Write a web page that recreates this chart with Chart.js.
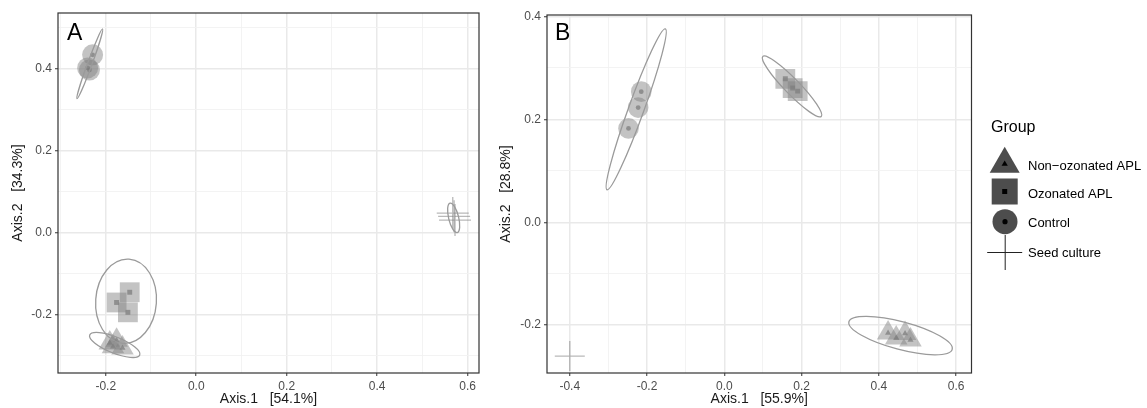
<!DOCTYPE html>
<html lang="en">
<head>
  <meta charset="UTF-8">
  <title>PCoA ordination</title>
  <script src="https://cdn.jsdelivr.net/npm/chart.js"></script>
  <style>
    body { margin: 0; background: #fff; }
    #wrap { position: relative; width: 1147px; height: 408px; }
    #panelA { position: absolute; left: 0; top: 0; width: 482px; height: 408px; }
    #panelB { position: absolute; left: 482px; top: 0; width: 665px; height: 408px; }
  </style>
</head>
<body>
  <div id="wrap">
    <div id="panelA"><canvas id="chartA"></canvas></div>
    <div id="panelB"><canvas id="chartB"></canvas></div>
  </div>

  <script>
    // Groups (legend order)
    const groups = ['Non\u2212ozonated APL', 'Ozonated APL', 'Control', 'Seed culture'];

    // Panel A sample coordinates
    const aNonOzX = [-0.191, -0.176, -0.163, -0.184];
    const aNonOzY = [-0.270, -0.263, -0.282, -0.279];
    const aOzX = [-0.147, -0.176, -0.151];
    const aOzY = [-0.146, -0.171, -0.195];
    const aCtrlX = [-0.229, -0.240, -0.236];
    const aCtrlY = [0.433, 0.401, 0.396];
    const aSeedX = [0.567, 0.570, 0.572];
    const aSeedY = [0.047, 0.039, 0.030];

    // Panel B sample coordinates
    const bNonOzX = [0.424, 0.445, 0.468, 0.482];
    const bNonOzY = [-0.215, -0.225, -0.216, -0.229];
    const bOzX = [0.158, 0.177, 0.190];
    const bOzY = [0.279, 0.261, 0.255];
    const bCtrlX = [-0.215, -0.223, -0.248];
    const bCtrlY = [0.254, 0.223, 0.1825];
    const bSeedX = [-0.400];
    const bSeedY = [-0.260];

    // Confidence ellipses: major axis end points and minor/major ratio
    const aEllipses = [
      [[-0.2354, -0.2503], [-0.1248, -0.2991], 0.30],
      [[-0.1485, -0.0654], [-0.1617, -0.2706], 0.72],
      [[-0.2635, 0.326], [-0.207, 0.496], 0.06],
      [[0.561, 0.0713], [0.577, -0.0005], 0.33]
    ];
    const bEllipses = [
      [[0.3226, -0.1934], [0.590, -0.247], 0.26],
      [[0.0997, 0.3226], [0.251, 0.2058], 0.18],
      [[-0.3036, 0.0632], [-0.1526, 0.376], 0.09]
    ];

    // Axis ranges, tick labels and minor grid lines
    const aXRange = [-0.3055, 0.625];
    const aYRange = [-0.343, 0.535];
    const aXTicks = [-0.2, 0.0, 0.2, 0.4, 0.6];
    const aXMinor = [-0.3, -0.1, 0.1, 0.3, 0.5];
    const aYTicks = [-0.2, 0.0, 0.2, 0.4];
    const aYMinor = [-0.3, -0.1, 0.1, 0.3, 0.5];

    const bXRange = [-0.459, 0.640];
    const bYRange = [-0.293, 0.403];
    const bXTicks = [-0.4, -0.2, 0.0, 0.2, 0.4, 0.6];
    const bXMinor = [-0.3, -0.1, 0.1, 0.3, 0.5];
    const bYTicks = [-0.2, 0.0, 0.2, 0.4];
    const bYMinor = [-0.1, 0.1, 0.3];

    Chart.defaults.font.family = '"Liberation Sans", Arial, sans-serif';
    Chart.defaults.animation = false;

    const FILL = 'rgba(128,128,128,0.47)';
    const DOT = 'rgba(105,105,105,0.65)';
    const LINE = '#9a9a9a';

    function pts(xs, ys) {
      return xs.map((x, i) => ({ x: x, y: ys[i] }));
    }

    function isIn(list, v) {
      return list.some(m => Math.abs(m - v) < 1e-9);
    }

    // big translucent marker + small darker centre marker per group
    function groupSets(xs, ys, style, radius, dotRadius) {
      const data = pts(xs, ys);
      if (style === 'cross') {
        return [{
          data: data, pointStyle: 'cross', pointRadius: radius,
          borderColor: 'rgba(128,128,128,0.55)', pointBorderWidth: 1.3, backgroundColor: 'transparent'
        }];
      }
      return [
        { data: data, pointStyle: style, pointRadius: radius, backgroundColor: FILL, pointBorderWidth: 0, borderColor: 'transparent' },
        { data: data, pointStyle: style, pointRadius: dotRadius, backgroundColor: DOT, pointBorderWidth: 0, borderColor: 'transparent' }
      ];
    }

    function axis(range, ticks, minor, isX, size, titleText, titlePad) {
      const all = ticks.concat(minor).sort((p, q) => p - q);
      return {
        type: 'linear',
        position: isX ? 'bottom' : 'left',
        min: range[0],
        max: range[1],
        afterBuildTicks: s => { s.ticks = all.map(v => ({ value: v })); },
        afterFit: s => {
          if (isX) s.height = size; else s.width = size;
          s.paddingLeft = 0; s.paddingRight = 0; s.paddingTop = 0; s.paddingBottom = 0;
        },
        border: { display: false },
        grid: {
          color: c => isIn(ticks, c.tick.value) ? '#e9e9e9' : '#f2f2f2',
          lineWidth: c => isIn(ticks, c.tick.value) ? 1.5 : 0.9,
          tickColor: c => isIn(ticks, c.tick.value) ? '#333333' : 'rgba(0,0,0,0)',
          tickLength: 3,
          tickWidth: 1
        },
        ticks: {
          autoSkip: false,
          maxRotation: 0,
          padding: 3,
          color: '#4d4d4d',
          font: { size: 12 },
          callback: v => isIn(ticks, v) ? v.toFixed(1) : ''
        },
        title: {
          display: true,
          text: titleText,
          color: '#1a1a1a',
          font: { size: 14 },
          padding: titlePad
        }
      };
    }

    // ellipses, panel box and panel letter
    const decor = {
      id: 'decor',
      afterDatasetsDraw(chart, args, opts) {
        const ctx = chart.ctx, sx = chart.scales.x, sy = chart.scales.y, area = chart.chartArea;
        ctx.save();
        ctx.beginPath();
        ctx.rect(area.left, area.top, area.right - area.left, area.bottom - area.top);
        ctx.clip();
        ctx.strokeStyle = LINE;
        ctx.lineWidth = 1.3;
        opts.ellipses.forEach(e => {
          const x1 = sx.getPixelForValue(e[0][0]), y1 = sy.getPixelForValue(e[0][1]);
          const x2 = sx.getPixelForValue(e[1][0]), y2 = sy.getPixelForValue(e[1][1]);
          const a = Math.hypot(x2 - x1, y2 - y1) / 2;
          ctx.beginPath();
          ctx.ellipse((x1 + x2) / 2, (y1 + y2) / 2, a, a * e[2], Math.atan2(y2 - y1, x2 - x1), 0, Math.PI * 2);
          ctx.stroke();
        });
        ctx.restore();
      },
      afterDraw(chart, args, opts) {
        const ctx = chart.ctx, area = chart.chartArea;
        ctx.save();
        ctx.strokeStyle = '#333333';
        ctx.lineWidth = 1.2;
        ctx.strokeRect(area.left, area.top, area.right - area.left, area.bottom - area.top);
        ctx.fillStyle = '#000';
        ctx.font = '23px "Liberation Sans", Arial, sans-serif';
        ctx.textBaseline = 'alphabetic';
        ctx.fillText(opts.letter, area.left + opts.letterDx, area.top + opts.letterDy);
        ctx.restore();
      }
    };

    // legend to the right of panel B
    const groupLegend = {
      id: 'groupLegend',
      afterDraw(chart) {
        const ctx = chart.ctx;
        const sx = 522.7, tx = 546;
        ctx.save();
        ctx.fillStyle = '#000';
        ctx.font = '16px "Liberation Sans", Arial, sans-serif';
        ctx.fillText('Group', 509, 131.5);
        ctx.font = '13px "Liberation Sans", Arial, sans-serif';
        const base = [170, 198.3, 226.7, 257];
        groups.forEach((g, i) => ctx.fillText(g, tx, base[i]));

        const dark = '#4d4d4d';
        // triangle
        ctx.fillStyle = dark;
        tri(ctx, sx, 164, 17.3); ctx.fill();
        ctx.fillStyle = '#000';
        tri(ctx, sx, 164, 3.6); ctx.fill();
        // square
        ctx.fillStyle = dark;
        ctx.fillRect(sx - 13, 191.5 - 13, 26, 26);
        ctx.fillStyle = '#000';
        ctx.fillRect(sx - 2.5, 191.5 - 2.5, 5, 5);
        // circle
        ctx.fillStyle = dark;
        ctx.beginPath(); ctx.arc(sx + 0.3, 221.7, 12.5, 0, Math.PI * 2); ctx.fill();
        ctx.fillStyle = '#000';
        ctx.beginPath(); ctx.arc(sx + 0.3, 221.7, 2.6, 0, Math.PI * 2); ctx.fill();
        // cross
        ctx.strokeStyle = '#222';
        ctx.lineWidth = 1;
        ctx.beginPath();
        ctx.moveTo(sx - 17.5, 252.5); ctx.lineTo(sx + 17.5, 252.5);
        ctx.moveTo(sx + 0.5, 235); ctx.lineTo(sx + 0.5, 270);
        ctx.stroke();
        ctx.restore();
      }
    };

    function tri(ctx, x, y, r) {
      ctx.beginPath();
      for (let k = 0; k < 3; k++) {
        const ang = k * 2 * Math.PI / 3;
        const px = x + Math.sin(ang) * r, py = y - Math.cos(ang) * r;
        if (k === 0) ctx.moveTo(px, py); else ctx.lineTo(px, py);
      }
      ctx.closePath();
    }

    function makePanel(id, sets, xAxis, yAxis, pad, decorOpts, extra) {
      return new Chart(document.getElementById(id), {
        type: 'scatter',
        data: { datasets: sets },
        options: {
          responsive: true,
          maintainAspectRatio: false,
          events: [],
          // fixed plot box; markers near the edge are clipped like in ggplot
          layout: { padding: pad, autoPadding: false },
          scales: { x: xAxis, y: yAxis },
          plugins: {
            legend: { display: false },
            tooltip: { enabled: false },
            decor: decorOpts
          }
        },
        plugins: [decor].concat(extra)
      });
    }

    makePanel('chartA',
      [].concat(
        groupSets(aNonOzX, aNonOzY, 'triangle', 13, 3.5),
        groupSets(aOzX, aOzY, 'rect', 14, 3.5),
        groupSets(aCtrlX, aCtrlY, 'circle', 10.5, 2.4),
        groupSets(aSeedX, aSeedY, 'cross', 16)
      ),
      axis(aXRange, aXTicks, aXMinor, true, 35, 'Axis.1   [54.1%]', { top: 0, bottom: 0 }),
      axis(aYRange, aYTicks, aYMinor, false, 58, 'Axis.2   [34.3%]', { top: 10, bottom: 0 }),
      { top: 13, right: 3, bottom: 0, left: 0 },
      { ellipses: aEllipses, letter: 'A', letterDx: 9, letterDy: 27 },
      []
    );

    makePanel('chartB',
      [].concat(
        groupSets(bNonOzX, bNonOzY, 'triangle', 13, 3.5),
        groupSets(bOzX, bOzY, 'rect', 14, 3.5),
        groupSets(bCtrlX, bCtrlY, 'circle', 10.3, 2.4),
        groupSets(bSeedX, bSeedY, 'cross', 15)
      ),
      axis(bXRange, bXTicks, bXMinor, true, 35, 'Axis.1   [55.9%]', { top: 0, bottom: 0 }),
      axis(bYRange, bYTicks, bYMinor, false, 65, 'Axis.2   [28.8%]', { top: 16, bottom: 0 }),
      { top: 15, right: 175.5, bottom: 0, left: 0 },
      { ellipses: bEllipses, letter: 'B', letterDx: 8, letterDy: 25 },
      [groupLegend]
    );
  </script>
</body>
</html>
